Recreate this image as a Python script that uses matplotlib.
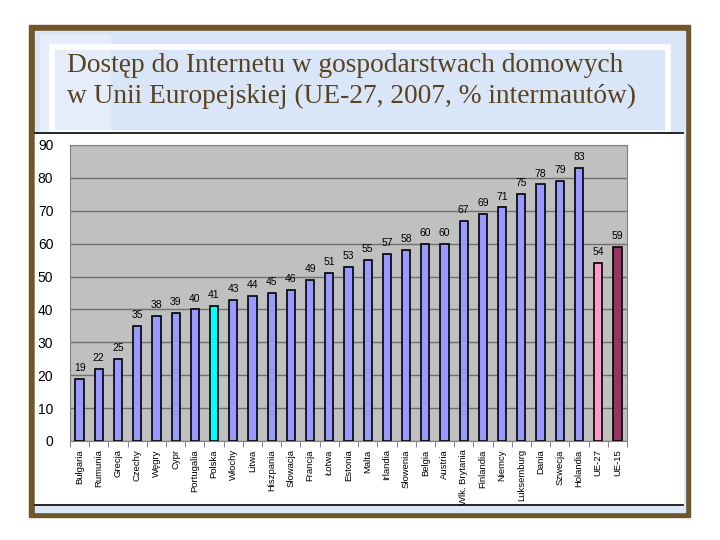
import numpy as np
import matplotlib.pyplot as plt
from matplotlib.patches import Rectangle

countries = ["Bułgaria", "Rumunia", "Grecja", "Czechy", "Węgry", "Cypr", "Portugalia",
             "Polska", "Włochy", "Litwa", "Hiszpania", "Słowacja", "Francja", "Łotwa",
             "Estonia", "Malta", "Irlandia", "Słowenia", "Belgia", "Austria",
             "Wlk. Brytania", "Finlandia", "Niemcy", "Luksemburg", "Dania", "Szwecja",
             "Holandia", "UE-27", "UE-15"]
values = [19, 22, 25, 35, 38, 39, 40, 41, 43, 44, 45, 46, 49, 51, 53, 55, 57, 58,
          60, 60, 67, 69, 71, 75, 78, 79, 83, 54, 59]
yticks = [0, 10, 20, 30, 40, 50, 60, 70, 80, 90]

colors = ["#9999ff"] * len(countries)
colors[countries.index("Polska")] = "#00ffff"
colors[countries.index("UE-27")] = "#ff99cc"
colors[countries.index("UE-15")] = "#993366"

fig = plt.figure(figsize=(7.2, 5.4), dpi=100)

# slide background in pixel coordinates
bg = fig.add_axes([0, 0, 1, 1])
bg.set_xlim(0, 720)
bg.set_ylim(540, 0)
bg.axis("off")
bg.add_patch(Rectangle((29, 25), 661, 492, color="#6e5628"))
bg.add_patch(Rectangle((35, 31), 650, 481, color="#d8e6f8"))
bg.add_patch(Rectangle((40, 35), 70, 97, color="#e4edf9"))
bg.add_patch(Rectangle((52, 47), 616, 86, fill=False, ec="white", lw=4))
bg.add_patch(Rectangle((35, 133), 648, 372, color="white"))
bg.plot([35, 683], [133, 133], color="black", lw=1.2)
bg.plot([35, 683], [505, 505], color="black", lw=1.2)

title_kw = dict(fontsize=19.7, family="Liberation Serif", color="#5a4220", va="center")
fig.text(67 / 720, 1 - 66 / 540, "Dostęp do Internetu w gospodarstwach domowych", **title_kw)
fig.text(67 / 720, 1 - 96 / 540, "w Unii Europejskiej (UE-27, 2007, % intermautów)", **title_kw)

ax = fig.add_axes([70 / 720, 1 - 441 / 540, 557 / 720, 296 / 540])
ax.set_facecolor("#c0c0c0")
x = np.arange(len(countries))
ax.bar(x, values, width=0.43, color=colors, edgecolor="black", linewidth=1.2, zorder=3)
for xi, v in zip(x, values):
    ax.text(xi, v + 1.8, str(v), ha="center", va="bottom", fontsize=7.5,
            family="Liberation Sans", zorder=4)

ax.set_xlim(-0.5, len(countries) - 0.5)
ax.set_ylim(0, 90)
ax.set_yticks(yticks)
ax.yaxis.grid(True, color="#707070", lw=1, zorder=1)
ax.set_xticks(x)
ax.set_xticklabels(countries, rotation=90, fontsize=6.8, family="Liberation Sans")
ax.set_xticks(np.arange(-0.5, len(countries), 1), minor=True)
ax.tick_params(axis="x", which="major", length=0, pad=6)
ax.tick_params(axis="x", which="minor", length=4, color="#707070")
ax.tick_params(axis="y", length=0, pad=12, labelsize=10)
for lbl in ax.get_yticklabels():
    lbl.set_family("Liberation Sans")
for s in ax.spines.values():
    s.set_color("#808080")

fig.savefig("out.png", dpi=100)
